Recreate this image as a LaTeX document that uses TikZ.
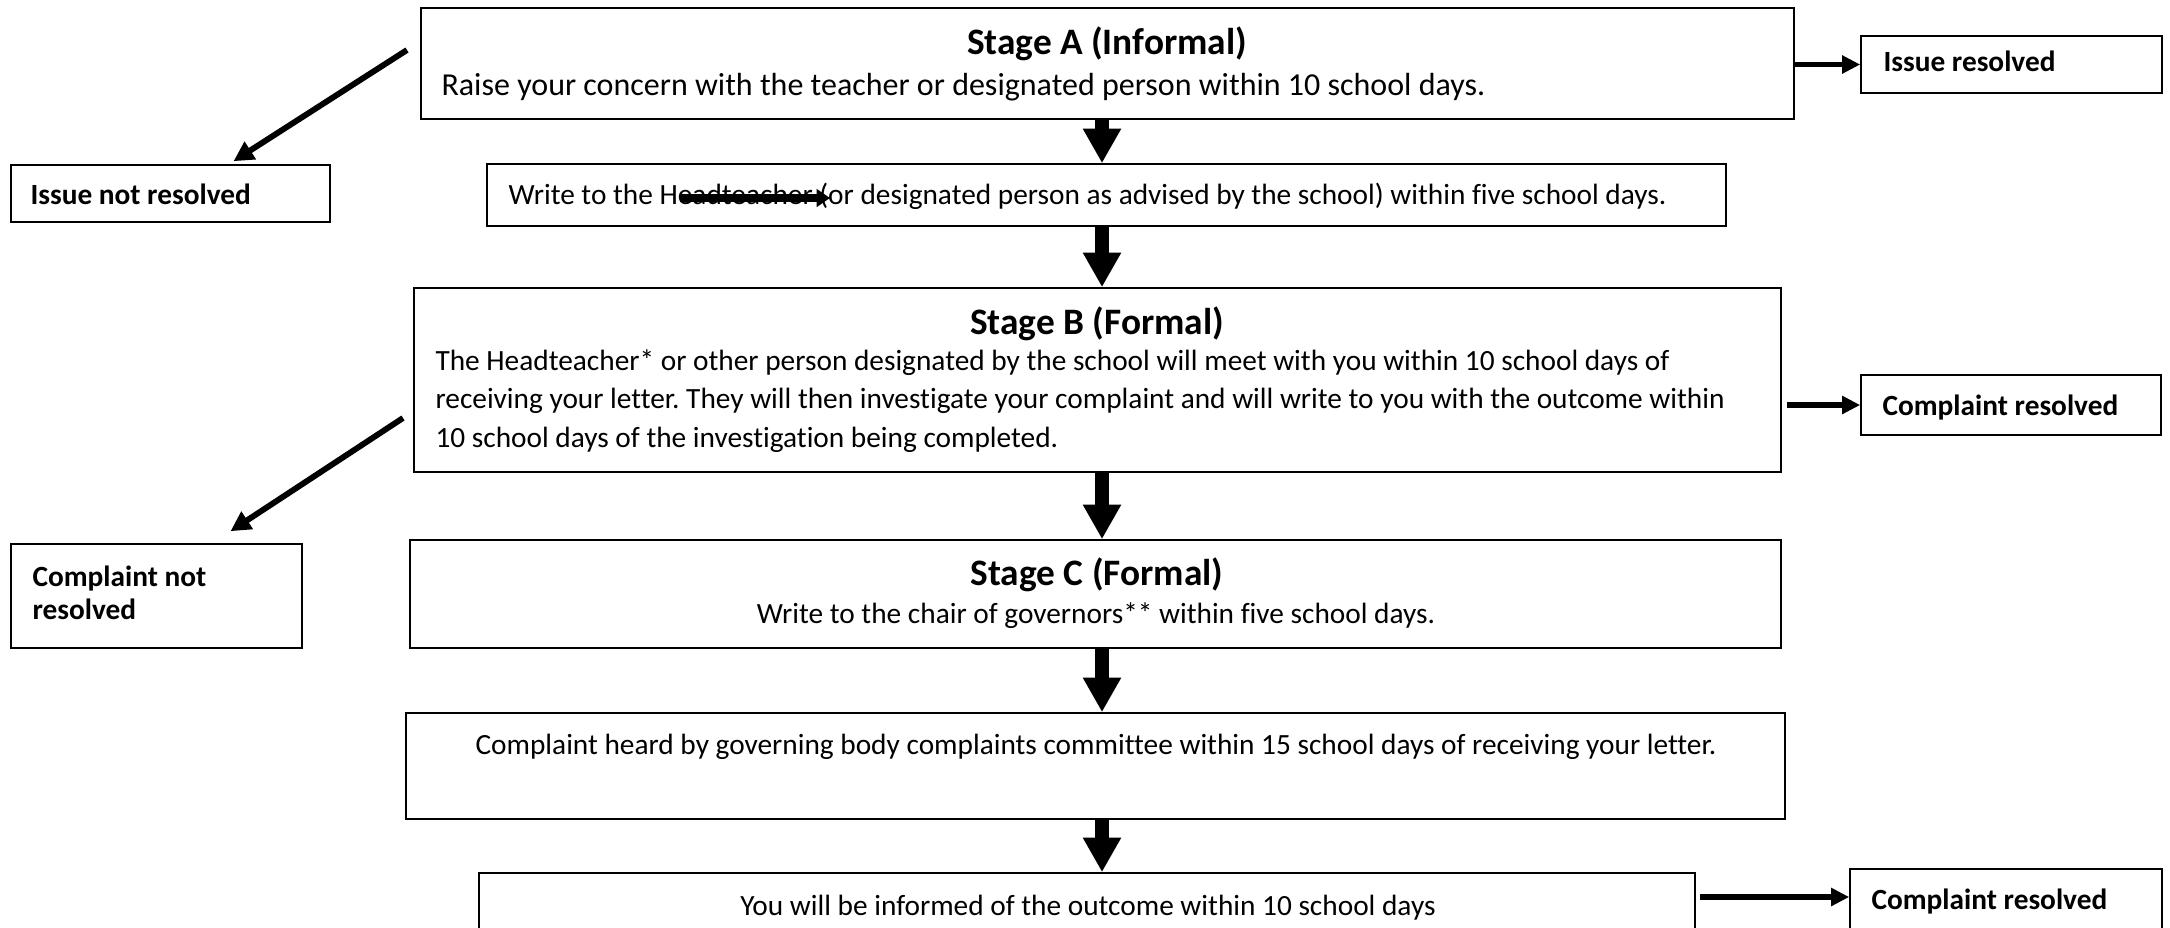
\documentclass[tikz,border=0pt]{standalone}
\usepackage{fontspec}
\setmainfont{Carlito}[Ligatures=NoCommon]
\usetikzlibrary{arrows.meta,fit,calc}
\frenchspacing
\begin{document}
\begin{tikzpicture}[x=0.375pt,y=-0.375pt,
 box/.style={draw=black, line width=0.6pt, inner sep=0pt, fill=white},
 ttl/.style={font=\fontsize{14}{17}\selectfont\bfseries, inner sep=0pt, anchor=mid},
 txt/.style={font=\fontsize{11}{13}\selectfont, inner sep=0pt},
 side/.style={font=\fontsize{11}{13}\selectfont\bfseries, inner sep=0pt, anchor=mid west},
 varrow/.style={line width=4.9pt, -{Triangle[length=13pt,width=13.5pt]}},
 harrow/.style={line width=1.9pt, -{Triangle[length=6.8pt,width=6.5pt]}},
 darrow/.style={line width=2.2pt, -{Triangle[length=7.5pt,width=7.5pt]}},
 strike/.style={line width=2.7pt, -{Triangle[length=5pt,width=6.5pt]}},
]
\useasboundingbox (0,0) rectangle (2170,927);
\clip (0,0) rectangle (2170,927);
\fill[white] (0,0) rectangle (2170,927);

% boxes
\node[box, fit={(421,8) (1794,119)}] (A) {};
\node[box, fit={(1861,36) (2162,93)}] (IR) {};
\node[box, fit={(11,165) (330,222)}] (INR) {};
\node[box, fit={(487,164) (1726,226)}] (W) {};
\node[box, fit={(414,288) (1781,472)}] (B) {};
\node[box, fit={(1861,375) (2161,435)}] (CR1) {};
\node[box, fit={(11,544) (302,648)}] (CNR) {};
\node[box, fit={(410,540) (1781,648)}] (C) {};
\node[box, fit={(406,713) (1785,819)}] (D) {};
\node[box, fit={(479,873) (1695,960)}] (E) {};
\node[box, fit={(1850,869) (2162,960)}] (CR2) {};

% texts
\node[ttl] (At) at (1107,48) {Stage A (Informal)};
\node[txt, font=\fontsize{12}{14}\selectfont, anchor=mid west] (Al) at (441,89) {Raise your concern with the teacher or designated person within 10 school days.};
\node[txt, anchor=mid west] (Wl) at (508,198) {Write to the Headteacher (or designated person as advised by the school) within five school days.};
\node[ttl] (Bt) at (1097,328) {Stage B (Formal)};
\node[txt, anchor=mid west] (B1) at (435,364) {The Headteacher* or other person designated by the school will meet with you within 10 school days of};
\node[txt, anchor=mid west] (B2) at (435,402) {receiving your letter. They will then investigate your complaint and will write to you with the outcome within};
\node[txt, anchor=mid west] (B3) at (435,441) {10 school days of the investigation being completed.};
\node[ttl] (Ct) at (1097,579) {Stage C (Formal)};
\node[txt, anchor=mid] (Cl) at (1096,617) {Write to the chair of governors** within five school days.};
\node[txt, anchor=mid] (Dl) at (1096,748) {Complaint heard by governing body complaints committee within 15 school days of receiving your letter.};
\node[txt, anchor=mid] (El) at (1088,909) {You will be informed of the outcome within 10 school days};

\node[side] (IRt) at (1883,65) {Issue resolved};
\node[side] (INRt) at (30,198) {Issue not resolved};
\node[side] (CR1t) at (1882,409) {Complaint resolved};
\node[side] (CNRt1) at (32,580) {Complaint not};
\node[side] (CNRt2) at (32,613) {resolved};
\node[side] (CR2t) at (1871,903) {Complaint resolved};

% vertical arrows
\coordinate (vx) at (1102,0);
\draw[varrow] (A.south -| vx) -- (W.north -| vx);
\draw[varrow] (W.south -| vx) -- (B.north -| vx);
\draw[varrow] (B.south -| vx) -- (C.north -| vx);
\draw[varrow] (C.south -| vx) -- (D.north -| vx);
\draw[varrow] (D.south -| vx) -- (E.north -| vx);

% horizontal arrows
\draw[harrow] (A.east |- IR.west) -- (IR.west);
\draw[harrow] ($(B.east |- CR1.west)+(5,0)$) -- (CR1.west);
\coordinate (r2) at (1700,897);
\draw[harrow] (r2) -- (r2 -| CR2.west);

% diagonal arrows
\coordinate (d1) at (407,50);
\draw[darrow] (d1) -- ($(INR.north)+(63,-3)$);
\coordinate (d2) at (403,418);
\draw[darrow] (d2) -- ($(CNR.north)+(74,-12)$);

% stray arrow over "Headteacher"
\coordinate (s1) at (680,198);
\coordinate (s2) at (830,198);
\draw[strike] (s1) -- (s2);
\end{tikzpicture}
\end{document}
